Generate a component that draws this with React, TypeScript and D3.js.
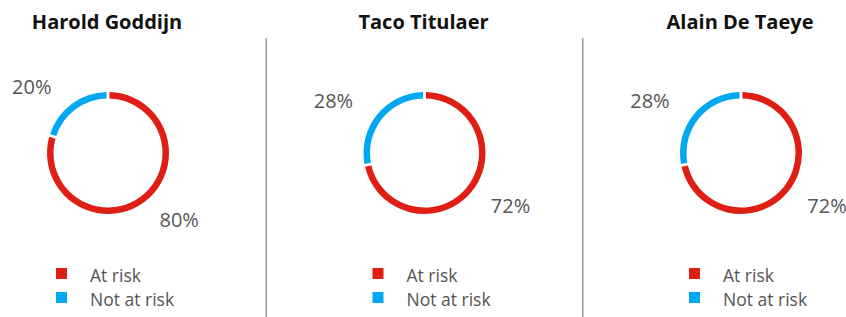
import React, { useRef, useEffect } from "react";
import * as d3 from "d3";

const people = ["Harold Goddijn", "Taco Titulaer", "Alain De Taeye"];
const categories = ["At risk", "Not at risk"];
const atRisk = [80, 72, 72];
const notAtRisk = [20, 28, 28];
const colors = ["#df1e14", "#00a8f2"];

const App = () => {
  const svgRef = useRef<SVGSVGElement>(null);

  useEffect(() => {
    const width = 846;
    const height = 317;
    const svg = d3.select(svgRef.current);
    svg.selectAll("*").remove();
    svg.attr("width", width).attr("height", height);

    // panel centers
    const x = d3
      .scalePoint<string>()
      .domain(people)
      .range([108, 741]);

    const cy = 153;
    const outer = 61;
    const inner = 54.5;
    const labelR = 83;

    const pie = d3
      .pie<number>()
      .sort(null)
      .value((d) => d)
      .padAngle(0.035);
    const arc = d3.arc<d3.PieArcDatum<number>>().innerRadius(inner).outerRadius(outer);

    const font = "'Open Sans', sans-serif";

    // dividers
    const step = x.step();
    people.slice(1).forEach((p) => {
      svg
        .append("line")
        .attr("x1", x(p)! - step / 2)
        .attr("x2", x(p)! - step / 2)
        .attr("y1", 38)
        .attr("y2", height)
        .attr("stroke", "#9a9a9a")
        .attr("stroke-width", 1.5);
    });

    people.forEach((p, i) => {
      const g = svg.append("g").attr("transform", `translate(${x(p)},0)`);

      g.append("text")
        .attr("x", -1)
        .attr("y", 29)
        .attr("text-anchor", "middle")
        .attr("font-family", font)
        .attr("font-weight", 700)
        .attr("font-size", 20)
        .attr("fill", "#111")
        .text(p);

      const arcs = pie([atRisk[i], notAtRisk[i]]);
      const donut = g.append("g").attr("transform", `translate(0,${cy})`);
      donut
        .selectAll("path")
        .data(arcs)
        .enter()
        .append("path")
        .attr("d", arc)
        .attr("fill", (d, j) => colors[j]);

      donut
        .selectAll("text")
        .data(arcs)
        .enter()
        .append("text")
        .each(function (d) {
          const a = (d.startAngle + d.endAngle) / 2;
          const px = labelR * Math.sin(a);
          const py = -labelR * Math.cos(a);
          const right = px >= 0;
          d3.select(this)
            .attr("x", right ? px + 2 : px - 7)
            .attr("y", py)
            .attr("dy", "0.38em")
            .attr("text-anchor", right ? "start" : "end");
        })
        .attr("font-family", font)
        .attr("font-size", 20)
        .attr("fill", "#555")
        .text((d) => `${d.value}%`);

      const legend = g
        .selectAll(".legend")
        .data(categories)
        .enter()
        .append("g")
        .attr("transform", (d, j) => `translate(-52,${268 + j * 24})`);
      legend
        .append("rect")
        .attr("width", 11)
        .attr("height", 11)
        .attr("fill", (d, j) => colors[j]);
      legend
        .append("text")
        .attr("x", 34)
        .attr("y", 13.5)
        .attr("font-family", font)
        .attr("font-size", 17.5)
        .attr("fill", "#555")
        .text((d) => d);
    });
  }, []);

  return (
    <svg
      ref={svgRef}
      style={{ position: "absolute", left: 0, top: 0, background: "#fff" }}
    ></svg>
  );
};

export default App;
